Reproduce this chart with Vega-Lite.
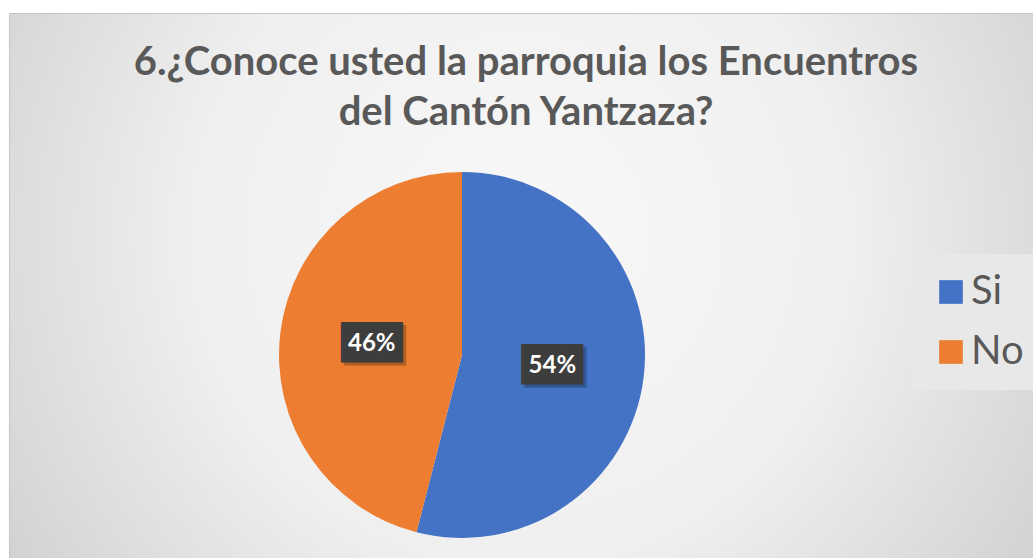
{
  "$schema": "https://vega.github.io/schema/vega-lite/v6.json",
  "width": 1033,
  "height": 558,
  "autosize": {"type": "fit", "contains": "padding"},
  "padding": {"left": 9, "top": 13, "right": 0, "bottom": 0},
  "background": "white",
  "title": {
    "text": ["6.¿Conoce usted la parroquia los Encuentros", "del Cantón Yantzaza?"],
    "font": "Lato",
    "fontSize": 40,
    "fontWeight": "bold",
    "color": "#595959",
    "anchor": "middle",
    "frame": "group",
    "offset": -120,
    "lineHeight": 50,
    "dx": 5
  },
  "config": {
    "view": {
      "stroke": "#c4c4c4",
      "strokeWidth": 1,
      "fill": {
        "gradient": "radial",
        "x1": 0.5, "y1": 0.45, "r1": 0,
        "x2": 0.5, "y2": 0.45, "r2": 0.72,
        "stops": [
          {"offset": 0, "color": "#f8f8f8"},
          {"offset": 0.45, "color": "#efefef"},
          {"offset": 1, "color": "#c4c4c4"}
        ]
      }
    },
    "legend": {
      "orient": "none",
      "legendX": 904,
      "legendY": 241,
      "fillColor": "#e8e8e8",
      "padding": 18,
      "rowPadding": 20,
      "symbolType": "square",
      "symbolSize": 560,
      "symbolStrokeWidth": 0,
      "labelFont": "Lato",
      "labelFontSize": 40,
      "labelColor": "#595959",
      "labelOffset": 0
    }
  },
  "data": {
    "values": [
      {"respuesta": "Si", "valor": 54, "etiqueta": "54%", "orden": 1},
      {"respuesta": "No", "valor": 46, "etiqueta": "46%", "orden": 2}
    ]
  },
  "encoding": {
    "theta": {"field": "valor", "type": "quantitative", "stack": true},
    "order": {"field": "orden", "type": "quantitative"},
    "x": {"datum": 0.4424, "type": "quantitative", "scale": {"domain": [0, 1]}, "axis": null},
    "y": {"datum": 0.6275, "type": "quantitative", "scale": {"domain": [0, 1], "reverse": true}, "axis": null}
  },
  "layer": [
    {
      "mark": {"type": "arc", "radius": 183, "stroke": null},
      "encoding": {
        "color": {
          "field": "respuesta",
          "type": "nominal",
          "scale": {"domain": ["Si", "No"], "range": ["#4472C4", "#ED7D31"]},
          "legend": {"title": null}
        }
      }
    },
    {
      "mark": {"type": "text", "radius": 91, "font": "DejaVu Sans Mono", "fontSize": 34, "fill": "#000000", "opacity": 0.25, "dx": 3, "dy": 3, "baseline": "middle", "align": "center"},
      "encoding": {"text": {"value": "███"}}
    },
    {
      "mark": {"type": "text", "radius": 91, "font": "DejaVu Sans Mono", "fontSize": 34, "fill": "#3d3d3d", "baseline": "middle", "align": "center"},
      "encoding": {"text": {"value": "███"}}
    },
    {
      "mark": {"type": "text", "radius": 91, "font": "Lato", "fontSize": 24, "fontWeight": "bold", "fill": "#ffffff", "baseline": "middle", "align": "center"},
      "encoding": {"text": {"field": "etiqueta", "type": "nominal"}}
    }
  ]
}
